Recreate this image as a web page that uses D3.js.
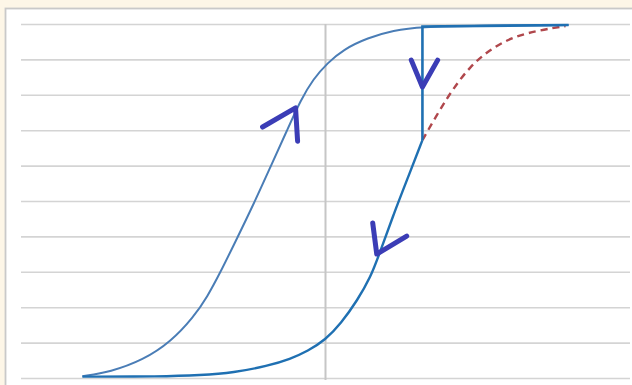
<!DOCTYPE html>
<html>
<head>
<meta charset="utf-8">
<script src="https://cdn.jsdelivr.net/npm/d3@7"></script>
<style>
  html, body { margin: 0; padding: 0; background: #fdf6e7; }
  svg { display: block; }
</style>
</head>
<body>
<svg id="chart" width="632" height="385"></svg>
<script>
// ---- data (x: -6..6, y: 0..10) ----
const yTicks = [0, 1, 2, 3, 4, 5, 6, 7, 8, 9, 10];

// ascending branch (left loop)
const ascending = [
  [-4.79, 0.05], [-4.24, 0.17], [-3.59, 0.51], [-3.05, 1.02], [-2.60, 1.72],
  [-2.33, 2.29], [-2.07, 2.99], [-1.81, 3.75], [-1.42, 4.90], [-1.08, 5.98],
  [-0.75, 7.02], [-0.49, 7.85], [-0.24, 8.45], [0.04, 8.90], [0.35, 9.28],
  [0.83, 9.61], [1.34, 9.82], [1.87, 9.92], [3.00, 9.95], [4.79, 9.97]
];

// descending plateau + drop
const plateauDrop = [
  [4.79, 9.97], [1.91, 9.93], [1.91, 6.72]
];

// descending branch (right curve)
const descending = [
  [-4.79, 0.04], [-3.25, 0.04], [-2.46, 0.08], [-1.81, 0.15], [-1.14, 0.34],
  [-0.69, 0.54], [-0.35, 0.76], [0.00, 1.08], [0.30, 1.53], [0.63, 2.20],
  [0.89, 2.85], [1.06, 3.50], [1.34, 4.62], [1.64, 5.72], [1.91, 6.72]
];

// dashed alternative
const dashed = [
  [1.91, 6.72], [2.25, 7.57], [2.50, 8.14], [2.84, 8.79], [3.23, 9.27],
  [3.68, 9.63], [4.22, 9.83], [4.73, 9.94]
];

// hand-drawn arrow heads
const arrowUp = [[-1.24, 7.09], [-0.59, 7.63], [-0.55, 6.69]];
const arrowDown = [[1.69, 8.98], [1.91, 8.22], [2.21, 8.98]];
const arrowLower = [[0.93, 4.38], [1.01, 3.50], [1.60, 4.01]];

// ---- drawing ----
const svg = d3.select("#chart");
const W = 632, H = 385;

svg.append("rect").attr("x", 0).attr("y", 0).attr("width", W).attr("height", H)
  .attr("fill", "#fdf6e7");
svg.append("rect").attr("x", 5.5).attr("y", 8.5).attr("width", W + 10).attr("height", H + 10)
  .attr("fill", "#ffffff").attr("stroke", "#c9c9c9").attr("stroke-width", 1.8);

const x = d3.scaleLinear().domain([-6, 6]).range([21, 630]);
const y = d3.scaleLinear().domain([0, 10]).range([378, 24]);

// gridlines via axis
const grid = svg.append("g")
  .attr("transform", `translate(${x(-6)},0)`)
  .call(d3.axisLeft(y).tickValues(yTicks).tickSize(-(x(6) - x(-6))).tickFormat(""));
grid.select(".domain").remove();
grid.selectAll(".tick line").attr("stroke", "#d4d4d4").attr("stroke-width", 1.6);

// vertical axis at x = 0
svg.append("line")
  .attr("x1", x(0)).attr("x2", x(0)).attr("y1", y(10)).attr("y2", y(0) + 2)
  .attr("stroke", "#c6c6c6").attr("stroke-width", 2);

const smooth = d3.line().x(d => x(d[0])).y(d => y(d[1])).curve(d3.curveBasis);
const straight = d3.line().x(d => x(d[0])).y(d => y(d[1]));

svg.append("path").attr("d", smooth(dashed))
  .attr("fill", "none").attr("stroke", "#b0474c").attr("stroke-width", 2.4)
  .attr("stroke-dasharray", "7,5");

svg.append("path").attr("d", smooth(ascending))
  .attr("fill", "none").attr("stroke", "#4a7db6").attr("stroke-width", 2);

svg.append("path").attr("d", smooth(descending))
  .attr("fill", "none").attr("stroke", "#1f70b2").attr("stroke-width", 2.4);

svg.append("path").attr("d", straight(plateauDrop))
  .attr("fill", "none").attr("stroke", "#1f70b2").attr("stroke-width", 2.6);

[arrowUp, arrowDown, arrowLower].forEach(a => {
  svg.append("path").attr("d", straight(a))
    .attr("fill", "none").attr("stroke", "#3b3db6").attr("stroke-width", 5)
    .attr("stroke-linecap", "round").attr("stroke-linejoin", "round");
});
</script>
</body>
</html>
